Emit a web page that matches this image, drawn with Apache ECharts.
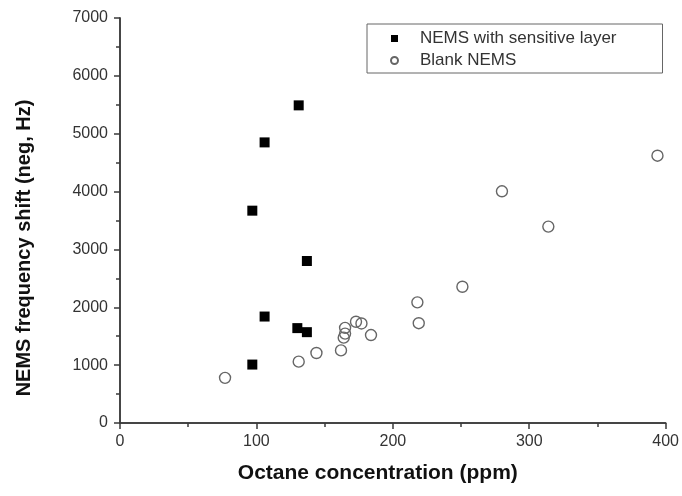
<!DOCTYPE html>
<html>
<head>
<meta charset="utf-8">
<script src="https://cdn.jsdelivr.net/npm/echarts@6/dist/echarts.min.js"></script>
<style>
  html, body { margin: 0; padding: 0; background: #fff; }
  #chart { width: 682px; height: 496px; }
</style>
</head>
<body>
<div id="chart"></div>
<script>
// NEMS with sensitive layer (filled squares)
const sensitiveX = [97, 106, 131, 137, 106, 130, 137, 97]
const sensitiveY = [3670, 4850, 5490, 2800, 1840, 1640, 1570, 1010]

// Blank NEMS (open circles)
const blankX = [77, 131, 144, 162, 164, 165, 165, 173, 177, 184, 218, 219, 251, 280, 314, 394]
const blankY = [780, 1060, 1210, 1255, 1475, 1545, 1645, 1750, 1720, 1520, 2085, 1725, 2355, 4005, 3395, 4620]

const seriesNames = ['NEMS with sensitive layer', 'Blank NEMS']
const xTitle = 'Octane concentration (ppm)'
const yTitle = 'NEMS frequency shift (neg, Hz)'

const font = 'Liberation Sans, Arial, sans-serif'
const axisColor = '#3a3a3a'

const pairs = (xs, ys) => xs.map((x, i) => [x, ys[i]])

const chart = echarts.init(document.getElementById('chart'), null, { renderer: 'canvas' })

const xBase = { type: 'value', min: 0, max: 400, interval: 100, splitLine: { show: false } }
const yBase = { type: 'value', min: 0, max: 7000, interval: 1000, splitLine: { show: false } }
const lineStyle = { color: axisColor, width: 1.5 }

const option = {
  animation: false,
  backgroundColor: '#fff',
  grid: { left: 120, right: 14, top: 18, bottom: 73 },
  legend: {
    orient: 'vertical',
    left: 367,
    top: 24,
    padding: [6, 46, 4, 23],
    itemGap: 5,
    itemWidth: 7,
    itemHeight: 7,
    borderColor: '#666',
    borderWidth: 1,
    textStyle: { fontFamily: font, fontSize: 17, color: '#333', lineHeight: 17, padding: [0, 0, 0, 17] },
    data: [
      { name: seriesNames[0], icon: 'rect' },
      { name: seriesNames[1], icon: 'circle' }
    ]
  },
  xAxis: [
    {
      ...xBase,
      position: 'bottom',
      name: xTitle,
      nameLocation: 'middle',
      nameGap: 40,
      nameTextStyle: { fontFamily: font, fontSize: 21, fontWeight: 'bold', color: '#111', padding: [0, 30, 0, 0] },
      axisLine: { lineStyle },
      axisTick: { inside: false, length: 6, lineStyle },
      minorTick: { show: true, splitNumber: 2, length: 4, lineStyle },
      axisLabel: { margin: 11, fontFamily: font, fontSize: 16, color: '#333' }
    },
    {
      ...xBase,
      position: 'top',
      axisLine: { lineStyle },
      axisTick: { inside: true, length: 5, lineStyle },
      minorTick: { show: true, splitNumber: 2, length: 4, lineStyle },
      axisLabel: { show: false }
    }
  ],
  yAxis: [
    {
      ...yBase,
      position: 'left',
      name: yTitle,
      nameLocation: 'middle',
      nameGap: 86,
      nameTextStyle: { fontFamily: font, fontSize: 20, fontWeight: 'bold', color: '#111', padding: [0, 55, 0, 0] },
      axisLine: { lineStyle },
      axisTick: { inside: false, length: 6, lineStyle },
      minorTick: { show: true, splitNumber: 2, length: 4, lineStyle },
      axisLabel: { margin: 12, fontFamily: font, fontSize: 16, color: '#333', formatter: v => String(v) }
    },
    {
      ...yBase,
      position: 'right',
      axisLine: { lineStyle },
      axisTick: { inside: true, length: 5, lineStyle },
      minorTick: { show: true, splitNumber: 2, length: 4, lineStyle },
      axisLabel: { show: false }
    }
  ],
  series: [
    {
      name: seriesNames[0],
      type: 'scatter',
      symbol: 'rect',
      symbolSize: 10,
      itemStyle: { color: '#000', opacity: 1 },
      data: pairs(sensitiveX, sensitiveY)
    },
    {
      name: seriesNames[1],
      type: 'scatter',
      symbol: 'circle',
      symbolSize: 11,
      itemStyle: { color: 'rgba(255,255,255,0)', borderColor: '#666', borderWidth: 1.4, opacity: 1 },
      data: pairs(blankX, blankY)
    }
  ]
}

chart.setOption(option)
</script>
</body>
</html>
